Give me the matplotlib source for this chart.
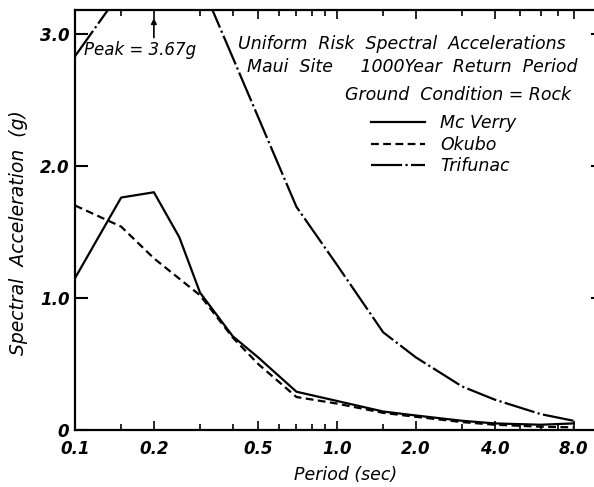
import matplotlib
matplotlib.use("Agg")
import matplotlib.pyplot as plt
from matplotlib.ticker import FixedLocator, NullFormatter

# spectral acceleration (g) against period (sec)
mcverry_period = [0.1, 0.15, 0.2, 0.25, 0.3, 0.4, 0.5, 0.7, 1.0, 1.5, 2.0, 3.0, 4.0, 6.0, 8.0]
mcverry_sa = [1.15, 1.76, 1.80, 1.46, 1.04, 0.71, 0.55, 0.29, 0.22, 0.14, 0.11, 0.07, 0.05, 0.04, 0.05]

okubo_period = [0.1, 0.15, 0.2, 0.3, 0.4, 0.5, 0.7, 1.0, 1.5, 2.0, 3.0, 4.0, 6.0, 8.0]
okubo_sa = [1.70, 1.54, 1.30, 1.02, 0.70, 0.50, 0.25, 0.20, 0.13, 0.10, 0.06, 0.04, 0.025, 0.02]

trifunac_period = [0.1, 0.2, 0.3, 0.7, 1.0, 1.5, 2.0, 3.0, 4.0, 6.0, 8.0]
trifunac_sa = [2.83, 3.67, 3.40, 1.69, 1.25, 0.74, 0.55, 0.33, 0.23, 0.12, 0.07]

peak_period = 0.2
peak_value = 3.67

xtick_major = [0.1, 0.2, 0.5, 1.0, 2.0, 4.0, 8.0]
xtick_labels = ["0.1", "0.2", "0.5", "1.0", "2.0", "4.0", "8.0"]
xtick_minor = [0.15, 0.3, 0.4, 0.6, 0.7, 0.8, 0.9, 1.5, 3.0, 5.0, 6.0, 7.0]
ytick_vals = [0, 1.0, 2.0, 3.0]
ytick_labels = ["0", "1.0", "2.0", "3.0"]

txt = dict(style="italic", fontsize=12.5, color="black")

fig = plt.figure(figsize=(5.94, 4.87), dpi=100)
ax = fig.add_axes([0.1263, 0.117, 0.8737, 0.8625])

ax.plot(mcverry_period, mcverry_sa, color="black", lw=1.6, label="Mc Verry")
ax.plot(okubo_period, okubo_sa, color="black", lw=1.6, dashes=(3.5, 2), label="Okubo")
ax.plot(trifunac_period, trifunac_sa, color="black", lw=1.6,
        dashes=(14, 1.5, 1, 1.5), label="Trifunac")

ax.set_xscale("log")
ax.set_xlim(0.1, 9.57)
ax.set_ylim(0, 3.18)

ax.xaxis.set_major_locator(FixedLocator(xtick_major))
ax.xaxis.set_minor_locator(FixedLocator(xtick_minor))
ax.set_xticklabels(xtick_labels)
ax.xaxis.set_minor_formatter(NullFormatter())
ax.set_yticks(ytick_vals)
ax.set_yticklabels(ytick_labels)

ax.tick_params(axis="x", which="both", direction="in", top=True, bottom=True,
               length=4.5, width=1.2, pad=7.5)
ax.tick_params(axis="x", which="major", length=6.5)
ax.tick_params(axis="y", direction="in", left=True, right=False, length=9,
               width=1.5, pad=4)
for lab in ax.get_xticklabels() + ax.get_yticklabels():
    lab.set_fontstyle("italic")
    lab.set_fontweight("bold")
    lab.set_fontsize(12)

# short ticks on the right edge, no spine there
tw = ax.twinx()
tw.set_ylim(ax.get_ylim())
tw.set_yticks(ytick_vals[1:])
tw.tick_params(axis="y", direction="in", length=2.5, width=1.5, labelright=False)
for s in tw.spines.values():
    s.set_visible(False)

for s in ["left", "bottom", "top"]:
    ax.spines[s].set_linewidth(1.6)
ax.spines["right"].set_visible(False)

ax.set_xlabel("Period (sec)", **txt)
ax.set_ylabel("Spectral  Acceleration  (g)", style="italic", fontsize=13.5)
ax.xaxis.set_label_coords(0.522, -0.085)
ax.yaxis.set_label_coords(-0.09, 0.471)

# peak marker for the Trifunac curve
ax.annotate("", xy=(peak_period, 3.14), xytext=(peak_period, 2.95),
            arrowprops=dict(arrowstyle="-|>", color="black", lw=1.2,
                            mutation_scale=8))
ax.text(0.108, 2.88, f"Peak = {peak_value:.2f}g", ha="left", va="center",
        style="italic", fontsize=12)

ax.text(0.420, 2.92, "Uniform  Risk  Spectral  Accelerations", ha="left",
        va="center", **txt)
ax.text(0.452, 2.75, "Maui  Site     1000Year  Return  Period", ha="left",
        va="center", **txt)
ax.text(1.07, 2.54, "Ground  Condition = Rock", ha="left", va="center", **txt)

leg = ax.legend(loc="upper left", bbox_to_anchor=(0.54, 0.79), frameon=False,
                handlelength=3.1, handletextpad=0.9, labelspacing=0.22,
                prop=dict(style="italic", size=12.5))

fig.savefig("out.png", dpi=100)
